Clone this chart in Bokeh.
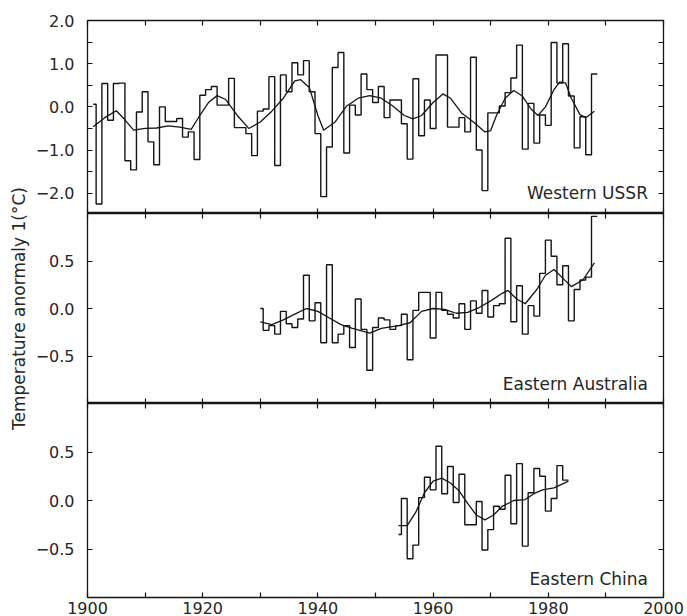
from bokeh.plotting import figure
from bokeh.layouts import column, row
from bokeh.models import (FixedTicker, LinearAxis, Range1d, Label,
                          CustomJSTickFormatter)
from bokeh.embed import file_html
from bokeh.resources import INLINE

# ---------------- data ----------------
ussr_years = list(range(1901, 1989))
ussr_anom = [0.06, -2.25, 0.54, -0.31, 0.54, 0.55, -1.25, -1.46, -0.12, 0.35,
             -0.81, -1.34, 0.00, -0.34, -0.34, -0.27, -0.70, -0.58, -1.22, 0.27,
             0.40, 0.47, 0.04, 0.04, 0.66, -0.48, -0.48, -0.62, -1.13, -0.10,
             -0.05, 0.70, -1.36, 0.74, 0.35, 1.02, 0.74, 1.07, 0.35, -0.62,
             -2.08, -0.93, 0.91, 1.26, -1.07, 0.04, -0.19, 0.76, 0.40, 0.10,
             0.47, -0.25, 0.16, 0.16, -0.39, -1.21, 0.65, -0.67, 0.16, -0.50,
             1.20, 1.20, -0.47, -0.47, -0.25, -0.58, 1.15, -1.00, -1.94, -0.14,
             -0.14, 0.02, 0.33, 0.67, 1.43, -0.98, 0.08, -0.84, -0.19, -0.43,
             1.49, 0.55, 1.46, 0.25, -0.95, -0.23, -1.11, 0.76]
ussr_smooth_years = [1901, 1903, 1905, 1906.5, 1908, 1910, 1912, 1914, 1916, 1918,
                     1919.5, 1921, 1922.5, 1924, 1926, 1928, 1930, 1932, 1934, 1936,
                     1937, 1938.5, 1940, 1941, 1943, 1945, 1947, 1949, 1951, 1953,
                     1955, 1956.5, 1958, 1960, 1961.7, 1963, 1965, 1967, 1969, 1970,
                     1971, 1972.5, 1974, 1975.5, 1977, 1978.2, 1979.5, 1981, 1982,
                     1983, 1984, 1985.5, 1986.5, 1988]
ussr_smooth = [-0.46, -0.25, -0.09, -0.30, -0.54, -0.50, -0.49, -0.44, -0.47, -0.52,
               -0.20, 0.10, 0.26, 0.17, -0.20, -0.50, -0.35, -0.10, 0.20, 0.60,
               0.63, 0.45, -0.20, -0.54, -0.35, 0.02, 0.20, 0.26, 0.20, 0.02,
               -0.20, -0.28, -0.20, 0.10, 0.30, 0.20, -0.15, -0.35, -0.58, -0.55,
               -0.20, 0.20, 0.38, 0.25, -0.05, -0.20, 0.00, 0.40, 0.58,
               0.55, 0.20, -0.18, -0.25, -0.10]

aus_years = list(range(1930, 1989))
aus_anom = [0.00, -0.23, -0.18, -0.27, -0.03, -0.16, -0.20, -0.11, 0.35, -0.13,
            0.06, -0.36, 0.46, -0.36, -0.27, -0.18, -0.41, 0.10, -0.22, -0.65,
            -0.20, -0.10, -0.12, -0.22, -0.18, -0.06, -0.54, -0.02, 0.17, 0.17,
            -0.31, 0.17, -0.02, -0.06, -0.10, 0.05, -0.22, 0.08, -0.05, 0.19,
            -0.09, 0.03, 0.05, 0.74, -0.14, 0.24, -0.27, 0.03, -0.08, 0.37,
            0.72, 0.55, 0.25, 0.45, -0.13, 0.20, 0.30, 0.33, 0.97]
aus_smooth_years = [1930, 1932, 1934, 1936, 1938, 1940, 1942, 1944, 1946, 1949,
                    1951, 1954, 1956, 1958, 1960, 1962, 1964, 1966, 1968, 1970,
                    1972, 1973, 1974.5, 1976, 1978, 1979.5, 1981, 1982.5, 1984,
                    1986, 1988]
aus_smooth = [-0.14, -0.17, -0.12, -0.06, 0.00, -0.03, -0.10, -0.17, -0.21, -0.26,
              -0.21, -0.18, -0.15, -0.03, 0.00, -0.01, -0.05, -0.04, 0.01, 0.08,
              0.16, 0.19, 0.10, 0.05, 0.20, 0.35, 0.41, 0.32, 0.23,
              0.30, 0.48]

china_years = list(range(1954, 1984))
china_anom = [-0.35, 0.02, -0.60, -0.46, 0.03, 0.24, 0.11, 0.56, 0.07, 0.35,
              -0.02, 0.27, -0.25, -0.25, -0.01, -0.51, -0.30, -0.06, -0.09, 0.26,
              -0.24, 0.38, -0.47, 0.08, 0.33, 0.25, -0.11, 0.02, 0.36, 0.21]
china_smooth_years = [1954, 1955.5, 1957, 1958.5, 1960, 1961.5, 1963, 1964.5, 1966,
                      1967.5, 1969, 1970.5, 1972, 1974, 1976, 1977.5, 1979, 1981,
                      1983.5]
china_smooth = [-0.26, -0.26, -0.12, 0.08, 0.20, 0.23, 0.18, 0.10, -0.03,
                -0.15, -0.20, -0.15, -0.06, 0.00, 0.01, 0.07, 0.11, 0.13, 0.20]

x_major_ticks = [1900, 1920, 1940, 1960, 1980, 2000]
x_minor_ticks = [1910, 1930, 1950, 1970, 1990]
ussr_yticks = [-2.0, -1.0, 0.0, 1.0, 2.0]
ussr_yminor = [-1.5, -0.5, 0.5, 1.5]
small_yticks = [-0.5, 0.0, 0.5]
y_title = "Temperature anormaly 1(°C)"

INK = "#151515"
TXT = "#262626"
FONT = "DejaVu Sans"
LABEL_W = 30          # width of the strip holding the y title
PANEL_W = 687 - LABEL_W

fmt = CustomJSTickFormatter(code="return tick.toFixed(1).replace('-', '\u2212');")
xfmt = CustomJSTickFormatter(code="return tick.toFixed(0);")


def style_axis(ax, show_labels, standoff):
    ax.axis_line_color = None
    ax.major_tick_in = 5
    ax.major_tick_out = 0
    ax.minor_tick_in = 5
    ax.minor_tick_out = 0
    ax.major_tick_line_color = INK
    ax.minor_tick_line_color = INK
    ax.major_tick_line_width = 1.2
    ax.minor_tick_line_width = 1.2
    if show_labels:
        ax.major_label_text_font = FONT
        ax.major_label_text_font_size = "16px"
        ax.major_label_text_color = TXT
        ax.major_label_standoff = standoff
    else:
        ax.major_label_text_color = None
        ax.major_label_text_font_size = "0px"
        ax.major_label_standoff = 0


def panel(h, y0, y1, top, bottom, yt, ytm, bottom_labels):
    p = figure(width=PANEL_W, height=h, x_range=Range1d(1900, 2000),
               y_range=Range1d(y0, y1), output_backend="svg",
               toolbar_location=None, x_axis_location=None, y_axis_location=None,
               min_border_left=87 - LABEL_W, min_border_right=24,
               min_border_top=top, min_border_bottom=bottom)
    p.grid.grid_line_color = None
    p.outline_line_color = INK
    p.outline_line_width = 1.3
    p.background_fill_color = "white"
    p.border_fill_color = "white"

    for loc in ("above", "below"):
        show = bottom_labels and loc == "below"
        ax = LinearAxis(ticker=FixedTicker(ticks=x_major_ticks, minor_ticks=x_minor_ticks),
                        formatter=xfmt)
        style_axis(ax, show, 4)
        p.add_layout(ax, loc)
    for loc in ("left", "right"):
        ax = LinearAxis(ticker=FixedTicker(ticks=yt, minor_ticks=ytm), formatter=fmt)
        style_axis(ax, loc == "left", 13)
        p.add_layout(ax, loc)
    return p


def draw(p, years, vals, syears, svals):
    xs = list(years) + [years[-1] + 0.5]
    ys = list(vals) + [vals[-1]]
    p.step(xs, ys, mode="center", line_color=INK, line_width=1.4)
    p.line(syears, svals, line_color=INK, line_width=1.3)


def region_label(p, y, text):
    p.add_layout(Label(x=1997.3, y=y, text=text, text_align="right",
                       text_baseline="alphabetic", text_font=FONT,
                       text_font_size="17px", text_color=TXT))


p1 = panel(213, -2.47, 2.0, 20, 0, ussr_yticks, ussr_yminor, False)
draw(p1, ussr_years, ussr_anom, ussr_smooth_years, ussr_smooth)
region_label(p1, -2.0, "Western USSR")

p2 = panel(190, -1.0, 1.0, 0, 0, small_yticks, [], False)
draw(p2, aus_years, aus_anom, aus_smooth_years, aus_smooth)
region_label(p2, -0.79, "Eastern Australia")

p3 = panel(222, -1.0, 1.0, 0, 28, small_yticks, [], True)
draw(p3, china_years, china_anom, china_smooth_years, china_smooth)
region_label(p3, -0.81, "Eastern China")

# narrow strip that carries the y title across all three panels (pixel-like ranges)
lab = figure(width=LABEL_W, height=616, x_range=Range1d(0, LABEL_W),
             y_range=Range1d(0, 616), output_backend="svg", toolbar_location=None,
             x_axis_location=None, y_axis_location=None,
             min_border_left=0, min_border_right=0, min_border_top=0, min_border_bottom=0)
lab.grid.grid_line_color = None
lab.outline_line_color = None
lab.border_fill_color = "white"
lab.add_layout(Label(x=18, y=616 - 308, text=y_title, angle=1.5707963267948966,
                     text_align="center", text_baseline="middle", text_font=FONT,
                     text_font_size="17px", text_color=TXT))

layout_kwargs = {}
try:
    from bokeh.models import GlobalInlineStyleSheet
    layout_kwargs["stylesheets"] = [GlobalInlineStyleSheet(css="html, body { overflow: hidden; margin: 0; }")]
except Exception:
    pass

page = row(lab, column(p1, p2, p3, spacing=0), spacing=0, **layout_kwargs)

open("out.html", "w").write(file_html(page, INLINE, title="Temperature anomalies"))
